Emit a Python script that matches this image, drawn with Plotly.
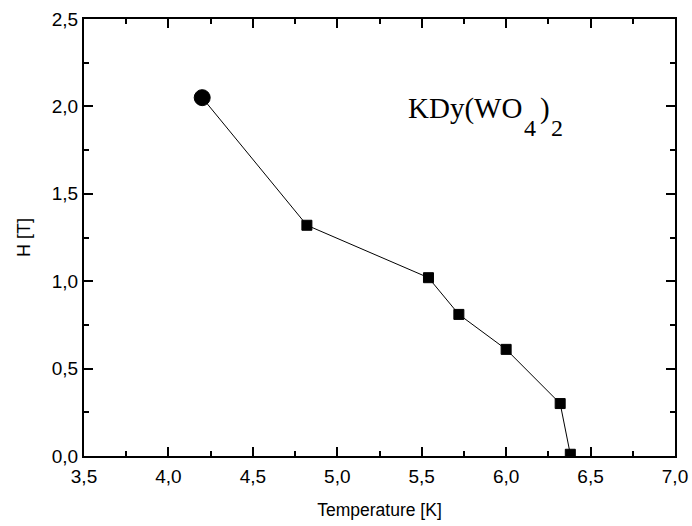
import plotly.graph_objects as go

temps = [4.2, 4.82, 5.54, 5.72, 6.0, 6.32, 6.38]
fields = [2.05, 1.32, 1.02, 0.81, 0.61, 0.30, 0.01]
symbols = ["circle", "square", "square", "square", "square", "square", "square"]
sizes = [16, 10, 10, 10, 10, 10, 10]

x_ticks = [3.5, 4.0, 4.5, 5.0, 5.5, 6.0, 6.5, 7.0]
y_ticks = [0.0, 0.5, 1.0, 1.5, 2.0, 2.5]
x_minor = [3.75, 4.25, 4.75, 5.25, 5.75, 6.25, 6.75]
y_minor = [0.25, 0.75, 1.25, 1.75, 2.25]

SANS = "Liberation Sans, Arial, sans-serif"
SERIF = "Liberation Serif, Times New Roman, serif"

fig = go.Figure()
fig.add_trace(go.Scatter(
    x=temps, y=fields, mode="lines+markers",
    line=dict(color="black", width=1),
    marker=dict(symbol=symbols, size=sizes, color="black", opacity=1,
                line=dict(color="black", width=1)),
    opacity=1, showlegend=False, cliponaxis=True,
))

axis_common = dict(
    showgrid=False, zeroline=False, showline=True, linecolor="black", linewidth=2,
    mirror="ticks", ticks="inside", ticklen=9, tickwidth=1.5, tickcolor="black",
    tickfont=dict(family=SANS, size=19, color="black"),
    tickformat=".1f", automargin=False, layer="above traces",
)

fig.update_xaxes(range=[3.5, 7.0], tickvals=x_ticks, **axis_common, ticklabelstandoff=2,
                 minor=dict(tickvals=x_minor, ticks="inside", ticklen=5, tickwidth=1.5, tickcolor="black"),
                 title=dict(text="Temperature [K]", font=dict(family=SANS, size=17.5, color="black"), standoff=18))
fig.update_yaxes(range=[0, 2.5], tickvals=y_ticks, **axis_common,
                 minor=dict(tickvals=y_minor, ticks="inside", ticklen=5, tickwidth=1.5, tickcolor="black"),
                 title=dict(text="H [T]", font=dict(family=SANS, size=18, color="black"), standoff=16))

# formula label: main text and lowered digits
fig.add_annotation(x=5.404, y=1.99, xref="x", yref="y", xanchor="left", yanchor="middle",
                   text="KDy(WO", showarrow=False, font=dict(family=SERIF, size=29, color="black"))
fig.add_annotation(x=6.094, y=1.875, xref="x", yref="y", xanchor="left", yanchor="middle",
                   text="4", showarrow=False, font=dict(family=SERIF, size=24, color="black"))
fig.add_annotation(x=6.187, y=1.99, xref="x", yref="y", xanchor="left", yanchor="middle",
                   text=")", showarrow=False, font=dict(family=SERIF, size=29, color="black"))
fig.add_annotation(x=6.252, y=1.875, xref="x", yref="y", xanchor="left", yanchor="middle",
                   text="2", showarrow=False, font=dict(family=SERIF, size=24, color="black"))

fig.update_layout(
    width=692, height=526, separators=",.",
    margin=dict(l=84, r=17, t=19, b=70),
    plot_bgcolor="white", paper_bgcolor="white",
)

fig.write_html("out.html", config={"displayModeBar": False},
               post_script="document.body.style.margin='0';")
